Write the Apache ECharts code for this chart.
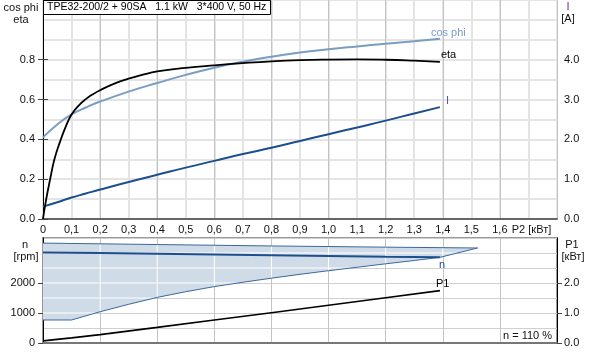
<!DOCTYPE html>
<html>
<head>
<meta charset="utf-8">
<script src="https://cdn.jsdelivr.net/npm/echarts@6/dist/echarts.min.js"></script>
<style>
  html, body { margin: 0; padding: 0; background: #fff; }
  #chart { width: 589px; height: 352px; }
</style>
</head>
<body>
<div id="chart"></div>
<script>
// values
var p2Eta = [0, 0.01, 0.025, 0.04, 0.06, 0.08, 0.1, 0.125, 0.15, 0.175, 0.2, 0.25, 0.3, 0.35, 0.4, 0.5, 0.6, 0.7, 0.8, 0.9, 1.0, 1.1, 1.2, 1.3, 1.39];
var eta = [0, 0.09, 0.2, 0.3, 0.39, 0.465, 0.525, 0.57, 0.602, 0.627, 0.647, 0.68, 0.705, 0.725, 0.741, 0.759, 0.772, 0.783, 0.792, 0.798, 0.801, 0.802, 0.8, 0.795, 0.789];

var p2Top = [0, 0.05, 0.1, 0.15, 0.2, 0.3, 0.4, 0.5, 0.6, 0.7, 0.8, 0.9, 1.0, 1.1, 1.2, 1.3, 1.39];
var cosPhi = [0.41, 0.475, 0.525, 0.56, 0.59, 0.64, 0.683, 0.724, 0.76, 0.79, 0.815, 0.836, 0.853, 0.867, 0.88, 0.893, 0.905];
var current = [0.31, 0.42, 0.54, 0.64, 0.74, 0.93, 1.11, 1.29, 1.46, 1.63, 1.79, 1.96, 2.13, 2.30, 2.47, 2.65, 2.81];

var p2P1 = [0, 0.1, 0.2, 0.4, 0.6, 0.8, 1.0, 1.2, 1.39];
var p1 = [0.07, 0.17, 0.28, 0.52, 0.765, 1.01, 1.26, 1.51, 1.745];

var p2N = [0, 0.2, 0.4, 0.6, 0.8, 1.0, 1.2, 1.39];
var speed = [3020, 2998, 2975, 2952, 2928, 2903, 2878, 2855];

// speed range band
var p2Up = [0, 0.4, 0.8, 1.2, 1.522];
var nUpper = [3330, 3282, 3235, 3195, 3167];
var p2Lo = [0, 0.1, 0.2, 0.3, 0.4, 0.5, 0.6, 0.7, 0.8, 0.9, 1.0, 1.1, 1.2, 1.3, 1.39, 1.522];
var nLower = [767, 767, 1043, 1290, 1520, 1710, 1880, 2025, 2160, 2290, 2410, 2525, 2640, 2750, 2855, 3167];

var FONT = 'Liberation Sans, Arial, sans-serif';
var TXT = '#111';

function pairs(xs, ys) {
  return xs.map(function (x, i) { return [x, ys[i]]; });
}
function interp(xs, ys, x) {
  for (var i = 1; i < xs.length; i++) {
    if (x <= xs[i]) {
      var t = (x - xs[i - 1]) / (xs[i] - xs[i - 1]);
      return ys[i - 1] + t * (ys[i] - ys[i - 1]);
    }
  }
  return ys[ys.length - 1];
}
function invInterp(xs, ys, y) {
  for (var i = 1; i < ys.length; i++) {
    if (y <= ys[i] && ys[i] > ys[i - 1]) {
      var t = (y - ys[i - 1]) / (ys[i] - ys[i - 1]);
      return xs[i - 1] + t * (xs[i] - xs[i - 1]);
    }
  }
  return xs[xs.length - 1];
}

// axis that only draws grid lines
function gridLineAxis(grid, max, interval, color, width, pos) {
  return {
    type: 'value', gridIndex: grid, min: 0, max: max, interval: interval, position: pos,
    axisLine: { show: false }, axisTick: { show: false }, axisLabel: { show: false },
    splitLine: { show: true, lineStyle: { color: color, width: width } }
  };
}

var chart = echarts.init(document.getElementById('chart'));

var option = {
  animation: false,
  title: {
    text: 'TPE32-200/2 + 90SA   1.1 kW   3*400 V, 50 Hz',
    left: 43, top: 0,
    padding: [2, 4, 2, 4],
    borderColor: '#000', borderWidth: 1, backgroundColor: '#fff',
    textStyle: { fontFamily: FONT, fontSize: 10.5, fontWeight: 'normal', color: '#000' }
  },
  grid: [
    { left: 43, right: 32, top: 0, height: 219 },
    { left: 43, right: 32, top: 238, height: 105, show: true, borderColor: '#999', borderWidth: 2 }
  ],
  xAxis: [
    gridLineAxis(0, 1.8, 0.1, '#e4e4e4', 2, 'bottom'),
    gridLineAxis(0, 1.8, 0.2, '#c4c4c4', 1, 'bottom'),
    {
      type: 'value', gridIndex: 0, min: 0, max: 1.8, interval: 0.1, position: 'bottom',
      axisLine: { show: true, onZero: false, lineStyle: { color: '#666', width: 2 } },
      axisTick: { show: false },
      splitLine: { show: false },
      axisLabel: {
        margin: 5, color: TXT, fontFamily: FONT, fontSize: 11,
        formatter: function (v) {
          var k = Math.round(v * 10);
          if (k === 0) return '0';
          if (k === 17) return '  P2 [кВт]';
          if (k > 17) return '';
          return (k / 10).toFixed(1).replace('.', ',');
        }
      }
    },
    {
      type: 'value', gridIndex: 1, min: 0, max: 1.8, interval: 0.2, position: 'bottom',
      axisLine: { show: true, onZero: false, lineStyle: { color: '#777', width: 2 } },
      axisTick: { show: false }, axisLabel: { show: false },
      splitLine: { show: true, lineStyle: { color: '#c4c4c4', width: 1 } }
    }
  ],
  yAxis: [
    gridLineAxis(0, 1.1, 0.1, '#e4e4e4', 2, 'left'),
    {
      type: 'value', gridIndex: 0, min: 0, max: 1.1, interval: 0.2, position: 'left',
      axisLine: { show: true, lineStyle: { color: '#000', width: 1 } },
      axisTick: { show: true, length: 5, lineStyle: { color: '#444' }, customValues: [0, 0.2, 0.4, 0.6, 0.8] },
      splitLine: { show: false },
      axisLabel: {
        margin: 8, color: TXT, fontFamily: FONT, fontSize: 11,
        customValues: [0, 0.2, 0.4, 0.6, 0.8],
        formatter: function (v) { return v.toFixed(1); }
      }
    },
    {
      type: 'value', gridIndex: 0, min: 0, max: 5.5, interval: 1, position: 'right',
      axisLine: { show: true, lineStyle: { color: '#000', width: 1 } },
      axisTick: { show: true, length: 5, lineStyle: { color: '#444' }, customValues: [0, 1, 2, 3, 4] },
      splitLine: { show: false },
      axisLabel: {
        margin: 7, color: TXT, fontFamily: FONT, fontSize: 11,
        customValues: [0, 1, 2, 3, 4],
        formatter: function (v) { return v.toFixed(1); }
      }
    },
    gridLineAxis(1, 3500, 500, '#d0d0d0', 1, 'left'),
    {
      type: 'value', gridIndex: 1, min: 0, max: 3500, interval: 500, position: 'left',
      axisLine: { show: true, lineStyle: { color: '#000', width: 1 } },
      axisTick: { show: true, length: 5, lineStyle: { color: '#444' }, customValues: [0, 1000, 2000] },
      splitLine: { show: false },
      axisLabel: {
        margin: 8, color: TXT, fontFamily: FONT, fontSize: 11,
        customValues: [0, 1000, 2000],
        formatter: function (v) { return String(v); }
      }
    },
    {
      type: 'value', gridIndex: 1, min: 0, max: 3.5, interval: 0.5, position: 'right',
      axisLine: { show: true, lineStyle: { color: '#000', width: 1 } },
      axisTick: { show: true, length: 5, lineStyle: { color: '#444' }, customValues: [0, 1, 2] },
      splitLine: { show: false },
      axisLabel: {
        margin: 7, color: TXT, fontFamily: FONT, fontSize: 11,
        customValues: [0, 1, 2],
        formatter: function (v) { return v.toFixed(1); }
      }
    }
  ],
  graphic: [
    { type: 'text', x: 21, y: 8, style: { text: 'cos phi', align: 'center', verticalAlign: 'middle', font: '11px ' + FONT, fill: TXT } },
    { type: 'text', x: 21, y: 20, style: { text: 'eta', align: 'center', verticalAlign: 'middle', font: '11px ' + FONT, fill: TXT } },
    { type: 'text', x: 568, y: 7, style: { text: 'I', align: 'center', verticalAlign: 'middle', font: '11px ' + FONT, fill: '#6a2f9a' } },
    { type: 'text', x: 568, y: 19, style: { text: '[A]', align: 'center', verticalAlign: 'middle', font: '11px ' + FONT, fill: TXT } },
    { type: 'text', x: 25, y: 245, style: { text: 'n', align: 'center', verticalAlign: 'middle', font: '11px ' + FONT, fill: TXT } },
    { type: 'text', x: 26, y: 257, style: { text: '[rpm]', align: 'center', verticalAlign: 'middle', font: '11px ' + FONT, fill: TXT } },
    { type: 'text', x: 572, y: 245, style: { text: 'P1', align: 'center', verticalAlign: 'middle', font: '11px ' + FONT, fill: TXT } },
    { type: 'text', x: 573, y: 257, style: { text: '[кВт]', align: 'center', verticalAlign: 'middle', font: '11px ' + FONT, fill: TXT } },
    { type: 'text', x: 552, y: 336, style: { text: 'n = 110 %', align: 'right', verticalAlign: 'middle', font: '11px ' + FONT, fill: TXT } }
  ],
  series: [
    {
      type: 'custom', xAxisIndex: 3, yAxisIndex: 4, silent: true,
      data: [[0, 0]],
      renderItem: function (params, api) {
        var pts = pairs(p2Up, nUpper).map(function (p) { return api.coord(p); })
          .concat(pairs(p2Lo, nLower).reverse().map(function (p) { return api.coord(p); }));
        var kids = [{ type: 'polygon', shape: { points: pts }, style: { fill: '#cfdbe7' } }];
        [0.2, 0.4, 0.6, 0.8, 1.0, 1.2, 1.4].forEach(function (x) {
          var a = api.coord([x, interp(p2Lo, nLower, x)]);
          var b = api.coord([x, interp(p2Up, nUpper, x)]);
          kids.push({ type: 'line', shape: { x1: a[0], y1: a[1], x2: b[0], y2: b[1] }, style: { stroke: '#fff', lineWidth: 1 } });
        });
        [1000, 1500, 2000, 2500, 3000].forEach(function (y) {
          var a = api.coord([0, y]);
          var b = api.coord([invInterp(p2Lo, nLower, y), y]);
          kids.push({ type: 'line', shape: { x1: a[0], y1: a[1], x2: b[0], y2: b[1] }, style: { stroke: '#fff', lineWidth: 1 } });
        });
        return { type: 'group', children: kids };
      }
    },
    {
      type: 'line', xAxisIndex: 3, yAxisIndex: 4, data: pairs(p2Up, nUpper),
      showSymbol: false, lineStyle: { color: '#3b679b', width: 1 }
    },
    {
      type: 'line', xAxisIndex: 3, yAxisIndex: 4, data: pairs(p2Lo, nLower),
      showSymbol: false, lineStyle: { color: '#3b679b', width: 1 }
    },
    {
      name: 'n', type: 'line', xAxisIndex: 3, yAxisIndex: 4, data: pairs(p2N, speed),
      showSymbol: false, lineStyle: { color: '#1d4f8f', width: 2 },
      endLabel: { show: true, formatter: 'n', offset: [-9, 8], color: '#1d4f8f', fontFamily: FONT, fontSize: 11 }
    },
    {
      name: 'P1', type: 'line', xAxisIndex: 3, yAxisIndex: 5, data: pairs(p2P1, p1),
      showSymbol: false, lineStyle: { color: '#000', width: 1.6 },
      endLabel: { show: true, formatter: 'P1', offset: [-12, -7], color: '#000', fontFamily: FONT, fontSize: 11 }
    },
    {
      name: 'I', type: 'line', xAxisIndex: 2, yAxisIndex: 2, data: pairs(p2Top, current),
      showSymbol: false, smooth: 0.5, lineStyle: { color: '#1d4f8f', width: 2 },
      endLabel: { show: true, formatter: 'I', offset: [-2, -6], color: '#5a4fc0', fontFamily: FONT, fontSize: 11 }
    },
    {
      name: 'cos phi', type: 'line', xAxisIndex: 2, yAxisIndex: 1, data: pairs(p2Top, cosPhi),
      showSymbol: false, smooth: 0.5, lineStyle: { color: '#7a9dc2', width: 2 },
      endLabel: { show: true, formatter: 'cos phi', offset: [-17, -6], color: '#7a9dc2', fontFamily: FONT, fontSize: 11 }
    },
    {
      name: 'eta', type: 'line', xAxisIndex: 2, yAxisIndex: 1, data: pairs(p2Eta, eta),
      showSymbol: false, smooth: 0.5, lineStyle: { color: '#000', width: 1.8 },
      endLabel: { show: true, formatter: 'eta', offset: [-7, -7], color: '#000', fontFamily: FONT, fontSize: 11 }
    }
  ]
};

chart.setOption(option);
</script>
</body>
</html>
